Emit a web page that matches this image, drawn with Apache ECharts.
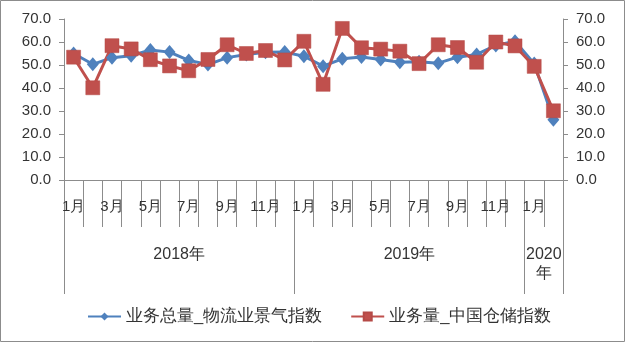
<!DOCTYPE html>
<html>
<head>
<meta charset="utf-8">
<script src="https://cdn.jsdelivr.net/npm/echarts@6/dist/echarts.min.js"></script>
<style>
  html, body { margin: 0; padding: 0; background: #fff; }
  #chart { width: 626px; height: 343px; }
</style>
</head>
<body>
<div id="chart"></div>
<script>
// Monthly index values, Jan 2018 – Feb 2020
const months = [
  '1月','2月','3月','4月','5月','6月','7月','8月','9月','10月','11月','12月',
  '1月','2月','3月','4月','5月','6月','7月','8月','9月','10月','11月','12月',
  '1月','2月'
];
const years = ['2018年', '2019年', '2020\n年'];
const monthsPerYear = [12, 12, 2];

const seriesNames = ['业务总量_物流业景气指数', '业务量_中国仓储指数'];
const logisticsIndex = [
  55.0, 50.3, 53.2, 54.0, 56.5, 55.6, 52.0, 50.2, 53.2, 54.6, 55.5, 55.6,
  53.8, 49.5, 52.7, 53.5, 52.4, 51.2, 51.4, 50.8, 53.4, 54.6, 58.5, 60.3,
  50.6, 26.2
];
const storageIndex = [
  53.4, 40.1, 58.4, 57.0, 52.3, 49.6, 47.5, 52.4, 58.8, 55.0, 56.3, 52.2,
  60.3, 41.6, 65.9, 57.5, 56.9, 56.0, 50.6, 58.8, 57.6, 51.2, 60.0, 58.3,
  49.4, 30.1
];

// year group boundaries and centres on a 0..N scale
const bounds = [0];
monthsPerYear.forEach(n => bounds.push(bounds[bounds.length - 1] + n));
const centres = monthsPerYear.map((n, i) => bounds[i] + n / 2);

const textColor = '#333';
const axisColor = '#8c8c8c';
const font = 'Liberation Sans, Arial, sans-serif';

const yAxisCommon = {
  type: 'value', min: 0, max: 70, interval: 10,
  axisLine: { show: true, lineStyle: { color: axisColor } },
  axisTick: { show: true, length: 5, lineStyle: { color: axisColor } },
  splitLine: { show: false },
  axisLabel: {
    color: textColor, fontSize: 15, fontFamily: font, margin: 13,
    formatter: v => v.toFixed(1)
  }
};

const chart = echarts.init(document.getElementById('chart'), null, { renderer: 'canvas' });
chart.setOption({
  animation: false,
  backgroundColor: '#fff',
  grid: { left: 64, right: 63, top: 19, bottom: 163, containLabel: false },
  xAxis: [
    {
      type: 'category', data: months, boundaryGap: true, position: 'bottom',
      axisLine: { show: true, lineStyle: { color: axisColor } },
      axisTick: { show: true, interval: 0, length: 47, lineStyle: { color: axisColor } },
      axisLabel: { interval: 1, color: textColor, fontSize: 15, fontFamily: font, margin: 19 }
    },
    {
      type: 'value', min: 0, max: bounds[bounds.length - 1], position: 'bottom',
      axisLine: { show: false },
      splitLine: { show: false },
      axisTick: {
        show: true, length: 114, customValues: bounds,
        lineStyle: { color: axisColor }
      },
      axisLabel: {
        customValues: centres, color: textColor, fontSize: 16, fontFamily: font,
        margin: 65, lineHeight: 19,
        formatter: v => years[centres.indexOf(v)]
      }
    }
  ],
  yAxis: [
    Object.assign({ position: 'left' }, yAxisCommon),
    Object.assign({ position: 'right' }, yAxisCommon)
  ],
  legend: {
    left: 87, top: 308, padding: 0, itemWidth: 33, itemHeight: 10, itemGap: 28,
    textStyle: { color: textColor, fontSize: 16.6, fontFamily: font },
    data: seriesNames
  },
  series: [
    {
      name: seriesNames[0], type: 'line', data: logisticsIndex,
      xAxisIndex: 0, yAxisIndex: 0,
      showSymbol: true, showAllSymbol: true,
      symbol: 'diamond', symbolSize: [12, 14],
      lineStyle: { color: '#4F81BD', width: 3 },
      itemStyle: { color: '#4F81BD' }
    },
    {
      name: seriesNames[1], type: 'line', data: storageIndex,
      xAxisIndex: 0, yAxisIndex: 1,
      showSymbol: true, showAllSymbol: true,
      symbol: 'rect', symbolSize: 14,
      lineStyle: { color: '#C0504D', width: 3 },
      itemStyle: { color: '#C0504D', borderColor: '#b54a47', borderWidth: 0.5 }
    }
  ],
  graphic: [
    {
      type: 'rect', silent: true, z: -1,
      shape: { x: 0.5, y: 0.5, width: 624, height: 341 },
      style: { fill: 'none', stroke: '#8c8c8c', lineWidth: 1 }
    }
  ]
});
</script>
</body>
</html>
